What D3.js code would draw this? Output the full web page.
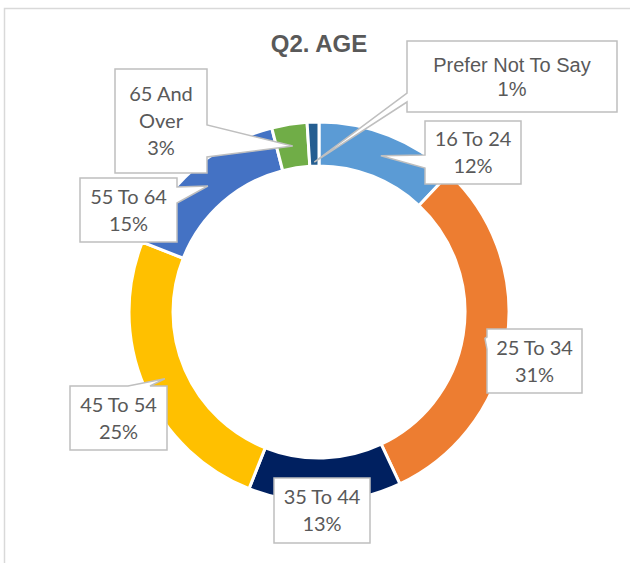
<!DOCTYPE html>
<html>
<head>
<meta charset="utf-8">
<script src="https://cdn.jsdelivr.net/npm/d3@7"></script>
<style>
  body { margin: 0; background: #fff; }
  svg { display: block; }
</style>
</head>
<body>
<div id="chart"></div>
<script>
// Data
const categories = ['16 To 24', '25 To 34', '35 To 44', '45 To 54', '55 To 64', '65 And Over', 'Prefer Not To Say'];
const shares = [12, 31, 13, 25, 15, 3, 1];
const colors = ['#5b9bd5', '#ed7d31', '#002060', '#ffc000', '#4472c4', '#70ad47', '#255e91'];

// Callout boxes (manual placement, like the Excel original)
const callouts = [
    {box: [425, 121, 96, 63], side: 'left', base: [155, 168], lines: ['16 To 24']},
    {box: [487, 329, 95, 64], side: 'left', base: [337, 349], lines: ['25 To 34']},
    {box: [274, 478, 96, 65], side: 'top', base: [314, 326], lines: ['35 To 44']},
    {box: [70, 386, 97, 64], side: 'top', base: [128, 150], lines: ['45 To 54']},
    {box: [80, 178, 97, 64], side: 'right', base: [187, 203], lines: ['55 To 64']},
    {box: [115, 69, 92, 104], side: 'right', base: [125, 157], lines: ['65 And', 'Over']},
    {box: [407, 41, 210, 71], side: 'left', base: [93, 102], lines: ['Prefer Not To Say'], tipR: 150, narrow: true}
];

const width = 630, height = 563;
const cx = 319, cy = 312, outerR = 190, innerR = 146;

const svg = d3.select('#chart')
    .append('svg')
    .attr('width', width)
    .attr('height', height);

// Chart area frame (runs off the right and bottom edges)
svg.append('path')
    .attr('d', `M4.5,${height} V8.5 H${width}`)
    .attr('fill', 'none')
    .attr('stroke', '#d9d9d9')
    .attr('stroke-width', 1.5);

// Title
svg.append('text')
    .attr('x', cx)
    .attr('y', 52)
    .attr('text-anchor', 'middle')
    .style('font-family', '"Liberation Sans", Arial, sans-serif')
    .style('font-weight', 'bold')
    .style('font-size', '24px')
    .attr('fill', '#595959')
    .text('Q2. AGE');

const pie = d3.pie().sort(null).value(d => d.value);
const arcs = pie(categories.map((c, i) => ({name: c, value: shares[i]})));

const arc = d3.arc().innerRadius(innerR).outerRadius(outerR);

const g = svg.append('g').attr('transform', `translate(${cx},${cy})`);

g.selectAll('.slice')
    .data(arcs)
    .enter()
    .append('path')
    .attr('class', 'slice')
    .attr('d', arc)
    .attr('fill', (d, i) => colors[i])
    .attr('stroke', '#fff')
    .attr('stroke-width', 3);

// Build a callout outline: box with a wedge pointing at the tip
function calloutPath(b, side, base, tip) {
    const [x, y, w, h] = b;
    const x1 = x + w, y1 = y + h;
    const inside = tip[0] >= x && tip[0] <= x1 && tip[1] >= y && tip[1] <= y1;
    const p = d3.path();
    p.moveTo(x, y);
    if (side === 'top' && !inside) {
        p.lineTo(base[0], y); p.lineTo(tip[0], tip[1]); p.lineTo(base[1], y);
    }
    p.lineTo(x1, y);
    if (side === 'right' && !inside) {
        p.lineTo(x1, base[0]); p.lineTo(tip[0], tip[1]); p.lineTo(x1, base[1]);
    }
    p.lineTo(x1, y1);
    if (side === 'bottom' && !inside) {
        p.lineTo(base[1], y1); p.lineTo(tip[0], tip[1]); p.lineTo(base[0], y1);
    }
    p.lineTo(x, y1);
    if (side === 'left' && !inside) {
        p.lineTo(x, base[1]); p.lineTo(tip[0], tip[1]); p.lineTo(x, base[0]);
    }
    p.closePath();
    return p.toString();
}

const labels = svg.append('g');

arcs.forEach((d, i) => {
    const c = callouts[i];
    const r = c.tipR || (innerR + outerR) / 2;
    const a = (d.startAngle + d.endAngle) / 2;
    const tip = [cx + r * Math.sin(a), cy - r * Math.cos(a)];

    labels.append('path')
        .attr('d', calloutPath(c.box, c.side, c.base, tip))
        .attr('fill', '#fff')
        .attr('stroke', '#bfbfbf')
        .attr('stroke-width', 1.5);

    const lines = c.lines.concat([shares[i] + '%']);
    const lh = c.narrow ? 24 : 27;
    const midY = c.box[1] + c.box[3] / 2;
    const t = labels.append('text')
        .attr('text-anchor', 'middle')
        .style('font-family', c.narrow ? '"Liberation Sans Narrow", "Arial Narrow", "Liberation Sans", sans-serif' : 'Lato, "Open Sans", sans-serif')
        .style('font-size', c.narrow ? '20px' : '20px')
        .attr('fill', '#595959');
    lines.forEach((ln, k) => {
        t.append('tspan')
            .attr('x', c.box[0] + c.box[2] / 2)
            .attr('y', midY + (k - (lines.length - 1) / 2) * lh)
            .attr('dy', '0.35em')
            .text(ln);
    });
});
</script>
</body>
</html>
